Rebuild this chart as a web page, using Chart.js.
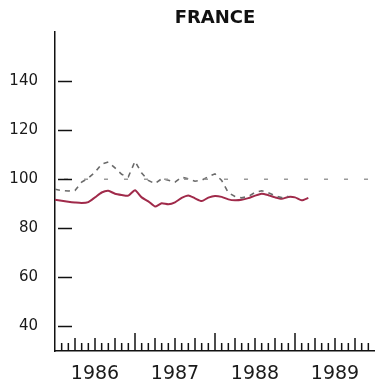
<!DOCTYPE html>
<html>
<head>
<meta charset="utf-8">
<script src="https://cdn.jsdelivr.net/npm/chart.js@4"></script>
<style>
html,body{margin:0;padding:0;background:#ffffff;}
#wrap{width:375px;height:386px;position:relative;}
</style>
</head>
<body>
<div id="wrap"><canvas id="c" width="375" height="386"></canvas></div>
<script>
// ---- data (monthly, index 0 = Jan 1986) ----
const chartTitle = "FRANCE";
const yearLabels = ["1986", "1987", "1988", "1989"];
const yTickValues = [40, 60, 80, 100, 120, 140];
const referenceLevel = 100;
const solidSeries = [
  91.6, 91.2, 90.8, 90.5, 90.3, 90.7, 92.6, 94.6, 95.3, 94.1,
  93.6, 93.3, 95.5, 92.6, 91.0, 88.9, 90.2, 89.8, 90.6, 92.4,
  93.4, 92.2, 91.1, 92.5, 93.2, 92.8, 91.8, 91.4, 91.6, 92.3,
  93.3, 94.1, 93.5, 92.6, 92.0, 92.8, 92.6, 91.4, 92.4
];
const dashedSeries = [
  95.9, 95.4, 95.2, 95.4, 98.8, 100.5, 102.8, 106.2, 107.0, 104.6,
  102.0, 101.0, 107.3, 102.5, 99.5, 98.2, 100.2, 99.6, 98.8, 100.8,
  100.2, 99.2, 99.6, 101.0, 102.2, 99.5, 94.5, 93.0, 92.4, 93.0,
  94.6, 95.3, 94.5, 93.3, 92.5, 93.0
];

const toPoints = arr => arr.map((v, i) => ({x: i, y: v}));

const decorPlugin = {
  id: 'decor',
  afterDraw(chart) {
    const ctx = chart.ctx;
    const xs = chart.scales.x, ys = chart.scales.y;
    const area = chart.chartArea;
    ctx.save();
    ctx.strokeStyle = '#111';
    ctx.lineWidth = 1.5;
    // y tick marks (inside the plot)
    yTickValues.forEach(v => {
      const y = Math.round(ys.getPixelForValue(v)) + 0.5;
      ctx.beginPath();
      ctx.moveTo(area.left + 3, y);
      ctx.lineTo(area.left + 17, y);
      ctx.stroke();
    });
    // x tick marks (monthly, quarterly, yearly)
    const nMonths = yearLabels.length * 12;
    for (let i = 1; i < nMonths; i++) {
      const x = xs.getPixelForValue(i);
      let h = 8;
      if (i % 12 === 0) h = 18; else if (i % 3 === 0) h = 13;
      ctx.beginPath();
      ctx.moveTo(x, area.bottom);
      ctx.lineTo(x, area.bottom - h);
      ctx.stroke();
    }
    // title
    ctx.fillStyle = '#111';
    ctx.font = 'bold 18px "DejaVu Sans", sans-serif';
    ctx.textAlign = 'center';
    ctx.textBaseline = 'middle';
    ctx.fillText(chartTitle, (area.left + area.right) / 2, 18);
    ctx.restore();
  }
};

new Chart(document.getElementById('c'), {
  type: 'line',
  data: {
    datasets: [
      {
        label: 'reference',
        data: [{x: 0, y: referenceLevel}, {x: yearLabels.length * 12, y: referenceLevel}],
        borderColor: '#9a9a9a',
        borderWidth: 1.6,
        borderDash: [4, 16],
        borderDashOffset: 11,
        pointRadius: 0,
        tension: 0
      },
      {
        label: 'dashed',
        data: toPoints(dashedSeries),
        borderColor: '#6a6a6a',
        borderWidth: 1.6,
        borderDash: [5, 5],
        pointRadius: 0,
        tension: 0
      },
      {
        label: 'solid',
        data: toPoints(solidSeries),
        borderColor: '#a02a4a',
        borderWidth: 2,
        pointRadius: 0,
        tension: 0.2
      }
    ]
  },
  options: {
    responsive: false,
    animation: false,
    devicePixelRatio: 1,
    layout: {padding: {top: 32, right: 0, left: 0, bottom: 0}},
    plugins: {legend: {display: false}, tooltip: {enabled: false}, title: {display: false}},
    scales: {
      x: {
        type: 'linear',
        min: 0,
        max: yearLabels.length * 12,
        afterBuildTicks: s => { s.ticks = yearLabels.map((_, k) => ({value: k * 12 + 6})); },
        afterFit: s => { s.height = 35; },
        ticks: {
          callback: (v) => yearLabels[Math.round((v - 6) / 12)] || '',
          color: '#1a1a1a',
          font: {family: '"DejaVu Sans", sans-serif', size: 19},
          padding: 12,
          maxRotation: 0,
          autoSkip: false
        },
        grid: {display: false, drawTicks: false},
        border: {display: true, color: '#111', width: 1.5}
      },
      y: {
        type: 'linear',
        min: 30,
        max: 160,
        afterBuildTicks: s => { s.ticks = yTickValues.map(v => ({value: v})); },
        afterFit: s => { s.width = 55; },
        ticks: {
          color: '#1a1a1a',
          font: {family: '"DejaVu Sans", sans-serif', size: 15},
          padding: 17
        },
        grid: {display: false, drawTicks: false},
        border: {display: true, color: '#111', width: 1.5}
      }
    }
  },
  plugins: [decorPlugin]
});
</script>
</body>
</html>
